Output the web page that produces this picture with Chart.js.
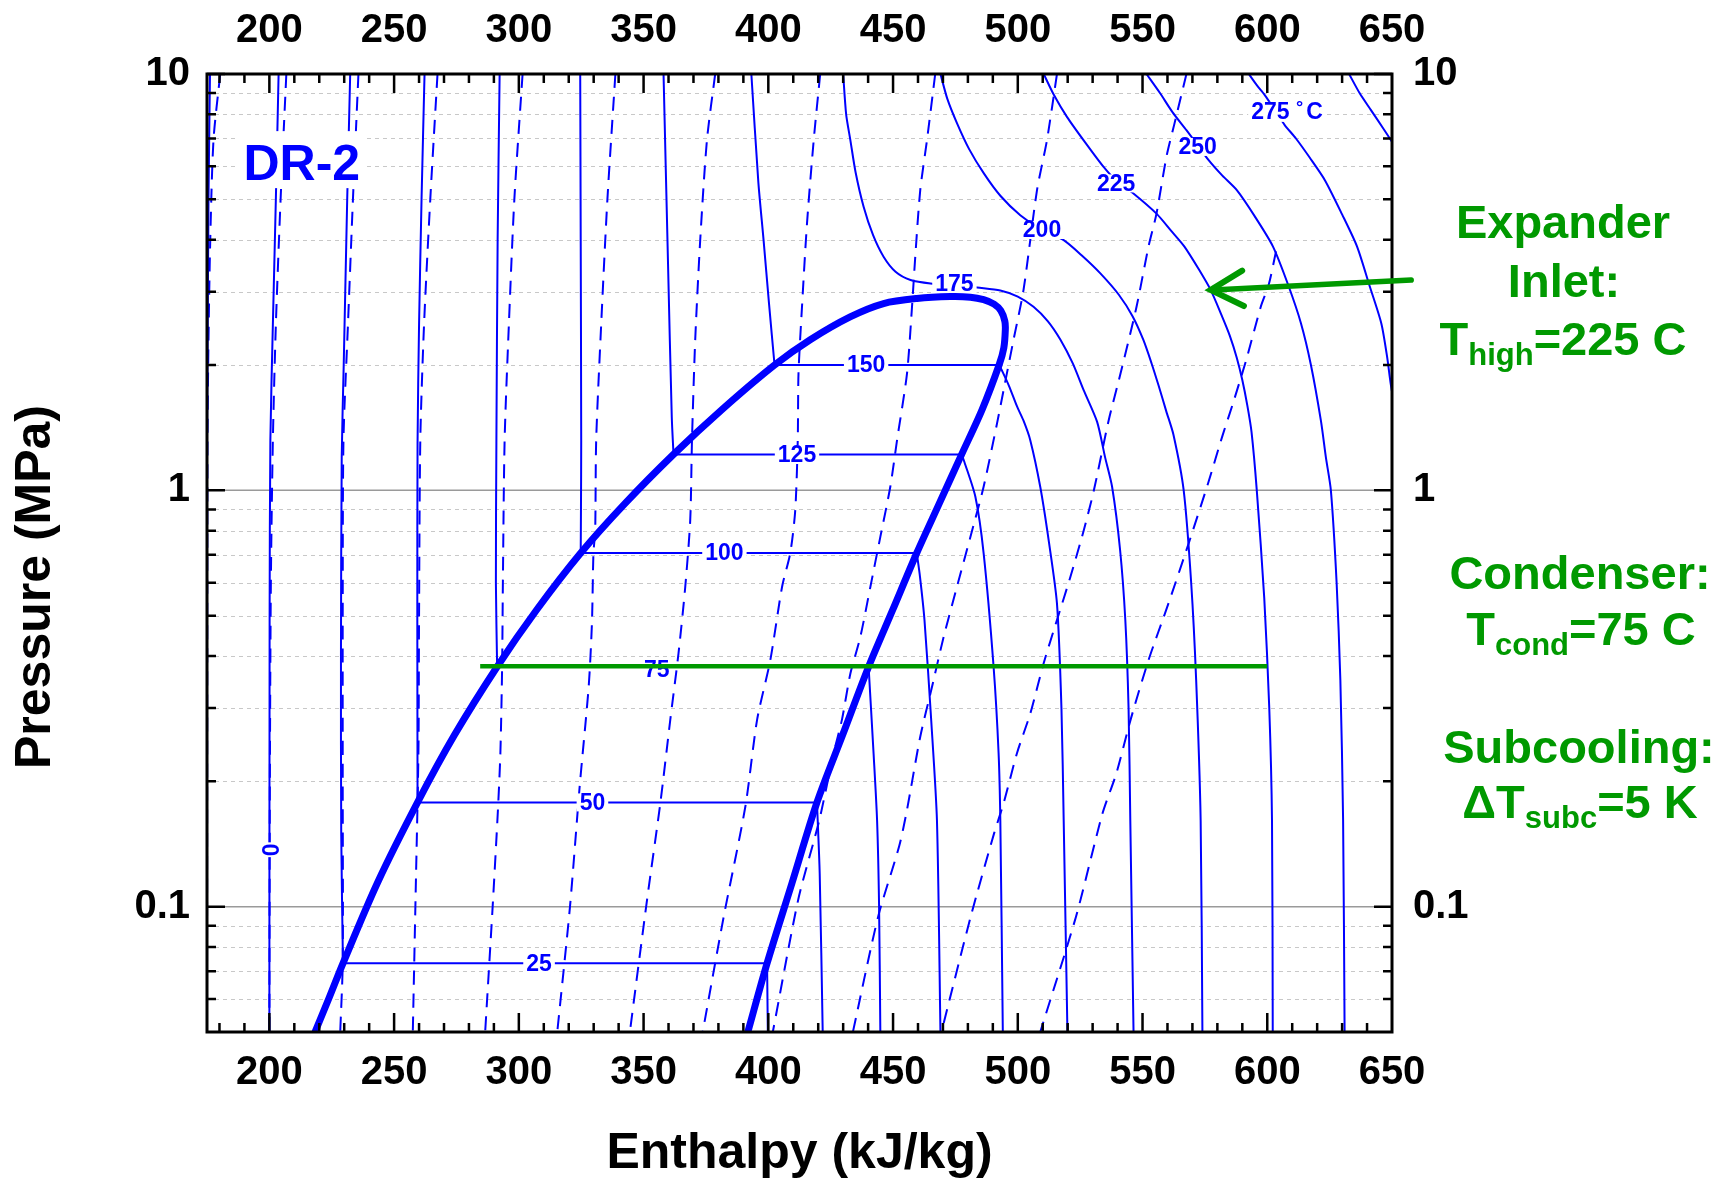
<!DOCTYPE html>
<html>
<head>
<meta charset="utf-8">
<title>DR-2 pressure-enthalpy diagram</title>
<script src="https://cdn.jsdelivr.net/npm/chart.js@4.4.1/dist/chart.umd.min.js"></script>
<style>
  html, body { margin: 0; padding: 0; background: #ffffff; }
  #chart { display: block; }
</style>
</head>
<body>
<canvas id="chart" width="1729" height="1181" style="width:1729px;height:1181px"></canvas>
<script>
// ---------------- data (enthalpy h in kJ/kg, pressure p in MPa) ----------------
const xTicks = [200, 250, 300, 350, 400, 450, 500, 550, 600, 650];
const yTicks = [0.1, 1, 10];
const yMinor = [0.06, 0.07, 0.08, 0.09, 0.2, 0.3, 0.4, 0.5, 0.6, 0.7, 0.8, 0.9, 2, 3, 4, 5, 6, 7, 8, 9];

// saturation dome: liquid line up, around the critical region, vapour line down
const dome = [[218.3,0.05],[224,0.0605],[229.5,0.0731],[243.3,0.114],[259.4,0.178],[274.3,0.259],[291.3,0.377],[307.1,0.516],[324.8,0.707],[342.5,0.929],[362,1.22],[381.4,1.563],[402.5,2.0],[416.8,2.30],[432.8,2.61],[446.2,2.81],[459.6,2.89],[473,2.92],[481,2.91],[486.3,2.87],[490.5,2.8],[493.2,2.7],[494.8,2.55],[495,2.43],[494.4,2.2],[492.5,2.0],[485.7,1.563],[477.5,1.22],[468.5,0.929],[459.5,0.707],[449.85,0.516],[440.2,0.377],[429.85,0.259],[419.5,0.178],[409.5,0.114],[399.5,0.0731],[391.8,0.05]];

// isotherms (solid)
const T_m25 = [[176.2,10],[175.6,5],[175.2,2],[175,1.3],[174.6,0.5],[174.3,0.05]];
const T0   = [[203.7,10],[202.6,5],[201.4,2.5],[200.4,1.32],[200.1,0.5],[200,0.05]];
const T25  = [[232.4,10],[231.2,5],[229.8,2],[229,1.2],[228.7,0.4],[228.8,0.15],[229.5,0.0731],[229.5,0.0731],[399.5,0.0731],[399.5,0.0731],[399.8,0.05]];
const T50  = [[262.2,10],[261,5],[260,2.5],[259.4,1.3],[259.3,0.5],[259.4,0.178],[259.4,0.178],[419.5,0.178],[419.5,0.178],[420.6,0.12],[421.8,0.05]];
const T75  = [[292.3,10],[291.5,4],[291,1.3],[290.8,0.6],[291.3,0.377],[291.3,0.377],[440.2,0.377],[440.2,0.377],[442.2,0.233],[443.6,0.161],[444.4,0.1],[444.9,0.05]];
const T100 = [[324.6,10],[324.8,4],[325,1.32],[324.9,0.9],[324.8,0.707],[324.8,0.707],[459.5,0.707],[459.5,0.707],[460.8,0.62],[462.6,0.488],[465.3,0.28],[467.6,0.161],[469,0.05]];
const T125 = [[358,10],[359.8,3.5],[361.3,1.5],[362,1.22],[362,1.22],[477.5,1.22],[477.5,1.22],[478.6,1.17],[483,0.965],[486.3,0.707],[490.3,0.377],[492.3,0.234],[493,0.161],[494,0.05]];
const T150 = [[393.2,10],[396,5.5],[398.1,3.99],[400.3,2.8],[402.5,2.0],[402.5,2.0],[492.5,2.0],[492.5,2.0],[494,1.92],[496.5,1.78],[499.7,1.59],[502.3,1.47],[505,1.32],[509,1.02],[512.5,0.75],[515.7,0.535],[517.5,0.3],[518.4,0.161],[519.9,0.05]];
const T175 = [[430,10],[431.2,8],[432.9,6.93],[435,5.8],[438.2,4.8],[442,4.1],[446.2,3.64],[451,3.35],[457,3.2],[465,3.14],[474.6,3.12],[483.7,3.07],[493,3.02],[500,2.92],[506.3,2.76],[512,2.55],[517.1,2.3],[522,2.02],[526.4,1.74],[531.8,1.46],[535,1.2],[537.8,1.02],[541,0.72],[543.1,0.488],[544.4,0.3],[545.1,0.161],[546.4,0.05]];
const T200 = [[469,10],[471.8,8.7],[475.7,7.6],[480.5,6.6],[486.4,5.77],[493,5.1],[501,4.58],[509.7,4.22],[518.4,3.99],[526,3.65],[533.1,3.32],[540.5,2.95],[546,2.62],[550.3,2.3],[553.6,2.02],[556.5,1.78],[559.5,1.55],[562.4,1.36],[566.5,1.0],[569.5,0.6],[571.5,0.35],[573.3,0.161],[574,0.05]];
const T225 = [[510.4,10],[514.5,8.9],[519.7,7.89],[527,6.85],[534.4,5.98],[539.4,5.55],[546.6,5.15],[555.6,4.62],[561.5,4.2],[566.8,3.85],[572.5,3.4],[577.3,3.03],[581.5,2.65],[585,2.35],[587.8,2.08],[590,1.84],[592,1.6],[593.7,1.38],[595.8,1.0],[598.8,0.55],[600.8,0.3],[601.9,0.161],[602.2,0.05]];
const T250 = [[551.6,10],[557,9],[562,8.1],[567.6,7.33],[572.1,6.75],[576.5,6.21],[582,5.7],[587.8,5.26],[595,4.55],[602.3,3.85],[608.5,3.1],[613.5,2.52],[617.5,2.0],[621.5,1.47],[623.5,1.2],[625.5,1.0],[627.8,0.6],[629.3,0.35],[630.4,0.161],[631,0.05]];
const T275 = [[592.6,10],[595.8,9.4],[599,8.9],[603,8.2],[607,7.54],[611.5,7.0],[617,6.3],[623.1,5.56],[630,4.6],[636,3.85],[641,3.1],[645.7,2.52],[648,2.1],[649.5,1.8],[651.3,1.55],[652.5,1.3]];
const T300 = [[632.8,10],[637,9],[641.5,8.2],[646.5,7.4],[651.3,6.68],[655,6.1]];

// isentropes (dashed)
const S1  = [[180.3,10],[177.6,6.94],[176.3,3.99],[175.6,2.3],[175.2,1.32],[175.1,0.5],[175,0.05]];
const S2  = [[206.8,10],[204.5,5],[202.6,2.5],[201.4,1.32],[200.6,0.6],[200.2,0.2],[200,0.05]];
const S3  = [[235.7,10],[233.5,5],[231.5,2.5],[229.7,1.32],[229.4,0.5],[229.4,0.2],[229.4,0.0731],[228.4,0.05]];
const S4  = [[267.4,10],[264.5,5],[262,2.5],[260.5,1.32],[260,0.5],[259.8,0.25],[259.4,0.178],[258.8,0.12],[257.5,0.05]];
const S5  = [[301.5,10],[298.2,5],[296,2.5],[294.3,1.32],[293.6,0.6],[293.3,0.378],[292.6,0.234],[291.6,0.17],[289.5,0.1],[286.5,0.05]];
const S6  = [[338.7,10],[335.5,5],[333,2.5],[331,1.32],[330.6,0.8],[329.9,0.706],[329.3,0.48],[328,0.338],[324.4,0.195],[320.5,0.1],[315.4,0.05]];
const S7  = [[378.7,10],[375.4,6.94],[372.7,3.99],[370.7,2.3],[369.4,1.32],[368.7,0.848],[366.7,0.586],[364,0.406],[360.7,0.281],[356.7,0.177],[351.4,0.104],[344.5,0.05]];
const S8  = [[420.8,10],[418.2,6.94],[415.5,4.37],[413.5,2.76],[412.1,1.91],[411.8,1.32],[410.8,0.896],[408.8,0.707],[405.5,0.586],[400.8,0.391],[395.5,0.281],[390.8,0.174],[382.1,0.0945],[373.7,0.05]];
const S9  = [[466.9,10],[463.6,6.94],[460.9,5.26],[458.9,3.64],[457.6,2.76],[455.6,1.91],[451.6,1.32],[448.9,1.02],[444.9,0.773],[440.9,0.586],[436.9,0.445],[432.9,0.363],[429.5,0.281],[426.2,0.234],[420.4,0.161],[412,0.104],[401.8,0.05]];
const S10 = [[515.7,10],[511.7,6.94],[507.7,5.26],[502.3,3.03],[498.3,2.3],[494.3,1.74],[491.7,1.45],[486.3,1.02],[481,0.773],[475.6,0.586],[470.3,0.445],[465.6,0.337],[460.9,0.256],[455.6,0.171],[452.5,0.14],[444,0.0945],[433.9,0.05]];
const S11 = [[567.6,10],[562.8,7.6],[559.6,6.33],[555.6,4.62],[552.4,3.85],[547.6,2.76],[541.2,1.91],[536.4,1.47],[530.5,1.0],[526.4,0.8],[521.1,0.62],[515.7,0.488],[510.4,0.385],[505,0.291],[499.7,0.234],[494.3,0.177],[490.5,0.15],[481.1,0.0945],[469.4,0.05]];
const S12 = [[603.5,3.75],[600.6,3.12],[597.4,2.76],[591.5,2.05],[586,1.6],[582,1.35],[576.5,1.05],[568.5,0.746],[560.4,0.535],[552.4,0.391],[545.2,0.281],[539.5,0.209],[533.9,0.167],[523.3,0.0945],[509,0.05]];

// isotherm labels (°C) and where they sit
const isoLabelText = ['25', '50', '75', '100', '125', '150', '175', '200', '225', '250', '275'];
const isoLabelH    = [308.1, 329.5, 355.3, 382.4, 411.5, 439.2, 474.6, 509.7, 539.4, 572.1, 607.9];
const isoLabelP    = [0.0731, 0.178, 0.371, 0.707, 1.22, 2.0, 3.13, 4.22, 5.46, 6.68, 8.11];
const zeroLabel    = ['0', 201, 0.137];
const fluidLabel   = ['DR-2', 213, 5.56];

// cycle annotations
const condenserLine = [[284.5, 0.378], [600, 0.378]];
const arrowTail = [657.7, 3.2];
const arrowTip  = [577.3, 3.03];
const noteLines = [
  [['Expander', 0]],
  [['Inlet:', 0]],
  [['T', 0], ['high', 1], ['=225 C', 0]],
  [['Condenser:', 0]],
  [['T', 0], ['cond', 1], ['=75 C', 0]],
  [['Subcooling:', 0]],
  [['\u0394T', 0], ['subc', 1], ['=5 K', 0]]
];

// ---------------- chart ----------------
const FONT = '"Liberation Sans", Arial, Helvetica, sans-serif';
const BLUE = '#0000ff';
const GREEN = '#009900';

const isotherms = [T_m25, T0, T25, T50, T75, T100, T125, T150, T175, T200, T225, T250, T275, T300];
const isentropes = [S1, S2, S3, S4, S5, S6, S7, S8, S9, S10, S11, S12];
const pts = a => a.map(([h, p]) => ({ x: h, y: p }));

const common = { showLine: true, pointRadius: 0, pointHoverRadius: 0, clip: 0, fill: false, borderJoinStyle: 'round' };
const datasets = [];
datasets.push(Object.assign({}, common, { label: 'Condenser', data: pts(condenserLine), borderColor: GREEN, borderWidth: 4.5, tension: 0, order: 0 }));
datasets.push(Object.assign({}, common, { label: 'Saturation', data: pts(dome), borderColor: BLUE, borderWidth: 7, tension: 0.3, order: 1, isDome: true }));
isotherms.forEach((a, i) => datasets.push(Object.assign({}, common, { label: 'T' + i, data: pts(a), borderColor: BLUE, borderWidth: 2, tension: 0.25, order: 2 })));
isentropes.forEach((a, i) => datasets.push(Object.assign({}, common, { label: 'S' + i, data: pts(a), borderColor: BLUE, borderWidth: 2, borderDash: [14, 9], tension: 0.25, order: 3 })));

const tickFont = { family: FONT, size: 40, weight: 'bold' };
function xScale(pos, height, pad, title) {
  const s = {
    type: 'linear', position: pos, min: 175, max: 650,
    afterBuildTicks: sc => { sc.ticks = xTicks.map(v => ({ value: v })); },
    afterFit: sc => { sc.height = height; },
    grid: { display: false, drawTicks: false },
    border: { display: false },
    ticks: { autoSkip: false, maxRotation: 0, minRotation: 0, padding: pad, color: '#000', font: tickFont, callback: v => String(v) }
  };
  if (title) s.title = { display: true, text: title, color: '#000', font: { family: FONT, size: 50, weight: 'bold', lineHeight: 1.0 }, padding: { top: 0, bottom: 1.4 } };
  return s;
}
function yScale(pos, width, pad) {
  return {
    type: 'logarithmic', position: pos, min: 0.05, max: 10,
    afterBuildTicks: sc => { sc.ticks = yTicks.map(v => ({ value: v })); },
    afterFit: sc => { sc.width = width; },
    grid: { display: false, drawTicks: false },
    border: { display: false },
    ticks: { autoSkip: false, padding: pad, color: '#000', font: tickFont, callback: v => String(v) }
  };
}

const gridPlugin = {
  id: 'pgrid',
  beforeDatasetsDraw(chart) {
    const { ctx, chartArea: a, scales } = chart;
    const ys = scales.y;
    ctx.save();
    ctx.lineWidth = 1; ctx.strokeStyle = '#c8c8c8'; ctx.setLineDash([4, 4]);
    yMinor.forEach(p => {
      const yy = Math.round(ys.getPixelForValue(p)) + 0.5;
      ctx.beginPath(); ctx.moveTo(a.left, yy); ctx.lineTo(a.right, yy); ctx.stroke();
    });
    ctx.setLineDash([]); ctx.strokeStyle = '#9a9a9a'; ctx.lineWidth = 1.5;
    [0.1, 1].forEach(p => {
      const yy = ys.getPixelForValue(p);
      ctx.beginPath(); ctx.moveTo(a.left, yy); ctx.lineTo(a.right, yy); ctx.stroke();
    });
    ctx.restore();
  }
};

const labelPlugin = {
  id: 'isoLabels',
  beforeDatasetDraw(chart, args) {
    const ds = chart.data.datasets[args.index];
    if (!ds || !ds.isDome) return;
    const { ctx, scales } = chart;
    const xs = scales.x, ys = scales.y;
    const f = 'bold 23px ' + FONT, fs = 'bold 18px ' + FONT;
    ctx.save();
    ctx.textBaseline = 'middle';
    for (let i = 0; i < isoLabelText.length; i++) {
      const px = xs.getPixelForValue(isoLabelH[i]);
      const py = ys.getPixelForValue(isoLabelP[i]);
      const t = isoLabelText[i];
      ctx.font = f;
      if (i === isoLabelText.length - 1) {
        const w1 = ctx.measureText(t + ' ').width;
        ctx.font = fs; const w2 = ctx.measureText('\u00B0').width;
        ctx.font = f; const w3 = ctx.measureText('C').width;
        const W = w1 + w2 + 3 + w3, x0 = px - W / 2;
        ctx.fillStyle = '#fff'; ctx.fillRect(x0 - 3, py - 10, W + 6, 20);
        ctx.fillStyle = BLUE; ctx.textAlign = 'left';
        ctx.fillText(t + ' ', x0, py + 1);
        ctx.font = fs; ctx.fillText('\u00B0', x0 + w1, py - 4);
        ctx.font = f; ctx.fillText('C', x0 + w1 + w2 + 3, py + 1);
      } else {
        const w = ctx.measureText(t).width;
        ctx.fillStyle = '#fff'; ctx.fillRect(px - w / 2 - 3, py - 9, w + 6, 18);
        ctx.fillStyle = BLUE; ctx.textAlign = 'center';
        ctx.fillText(t, px, py + 1);
      }
    }
    // rotated "0" on the 0 °C isotherm
    const zx = xs.getPixelForValue(zeroLabel[1]), zy = ys.getPixelForValue(zeroLabel[2]);
    ctx.save();
    ctx.translate(zx, zy); ctx.rotate(-Math.PI / 2);
    ctx.font = f; ctx.textAlign = 'center'; ctx.textBaseline = 'middle';
    const zw = ctx.measureText(zeroLabel[0]).width;
    ctx.fillStyle = '#fff'; ctx.fillRect(-zw / 2 - 1, -9, zw + 2, 17);
    ctx.fillStyle = BLUE; ctx.fillText(zeroLabel[0], 0, 1);
    ctx.restore();
    // fluid name
    ctx.font = 'bold 50px ' + FONT; ctx.textAlign = 'center'; ctx.textBaseline = 'alphabetic';
    const dx = xs.getPixelForValue(fluidLabel[1]), dy = ys.getPixelForValue(fluidLabel[2]);
    const dw = ctx.measureText(fluidLabel[0]).width;
    ctx.fillStyle = '#fff'; ctx.fillRect(dx - dw / 2 - 6, dy - 49, dw + 12, 57);
    ctx.fillStyle = BLUE; ctx.fillText(fluidLabel[0], dx, dy);
    ctx.restore();
  }
};

function drawRich(ctx, parts, cx, baseY) {
  const big = 'bold 47px ' + FONT, small = 'bold 31px ' + FONT;
  let total = 0;
  parts.forEach(([t, sub]) => { ctx.font = sub ? small : big; total += ctx.measureText(t).width; });
  let x = cx - total / 2;
  ctx.textAlign = 'left'; ctx.textBaseline = 'alphabetic';
  parts.forEach(([t, sub]) => {
    ctx.font = sub ? small : big;
    ctx.fillText(t, x, sub ? baseY + 10 : baseY);
    x += ctx.measureText(t).width;
  });
}

const framePlugin = {
  id: 'frame',
  afterDraw(chart) {
    const { ctx, chartArea: a, scales } = chart;
    const xs = scales.x, ys = scales.y;
    ctx.save();
    // inward tick marks on all four sides
    ctx.strokeStyle = '#000'; ctx.lineWidth = 2.5; ctx.lineCap = 'butt';
    ctx.beginPath();
    for (let v = 180; v < 650; v += 10) {
      const len = v % 50 === 0 ? 19 : 9;
      const px = xs.getPixelForValue(v);
      ctx.moveTo(px, a.bottom); ctx.lineTo(px, a.bottom - len);
      ctx.moveTo(px, a.top); ctx.lineTo(px, a.top + len);
    }
    yMinor.concat(yTicks).forEach(p => {
      const len = yTicks.includes(p) ? 18 : 9;
      const py = ys.getPixelForValue(p);
      ctx.moveTo(a.left, py); ctx.lineTo(a.left + len, py);
      ctx.moveTo(a.right, py); ctx.lineTo(a.right - len, py);
    });
    ctx.stroke();
    ctx.lineWidth = 3;
    ctx.strokeRect(a.left, a.top, a.right - a.left, a.bottom - a.top);

    // y-axis title
    ctx.save();
    ctx.translate(36.5, 587); ctx.rotate(-Math.PI / 2);
    ctx.font = 'bold 50px ' + FONT; ctx.fillStyle = '#000';
    ctx.textAlign = 'center'; ctx.textBaseline = 'middle';
    ctx.fillText('Pressure (MPa)', 0, 0);
    ctx.restore();

    // arrow to expander inlet
    const tx = xs.getPixelForValue(arrowTip[0]), ty = ys.getPixelForValue(arrowTip[1]);
    const sx = xs.getPixelForValue(arrowTail[0]), sy = ys.getPixelForValue(arrowTail[1]);
    ctx.strokeStyle = GREEN; ctx.lineWidth = 5.5; ctx.lineCap = 'round';
    ctx.beginPath(); ctx.moveTo(sx, sy); ctx.lineTo(tx + 2, ty); ctx.stroke();
    const ang = Math.atan2(sy - ty, sx - tx), L = 37, spread = 0.5;
    ctx.lineWidth = 6;
    ctx.beginPath();
    ctx.moveTo(tx + L * Math.cos(ang - spread), ty + L * Math.sin(ang - spread));
    ctx.lineTo(tx, ty);
    ctx.lineTo(tx + L * Math.cos(ang + spread), ty + L * Math.sin(ang + spread));
    ctx.lineJoin = 'miter';
    ctx.stroke();

    // green notes
    ctx.fillStyle = GREEN;
    const notePos = [[1563, 238], [1564, 297], [1563, 355], [1580, 589], [1581, 645], [1579, 763], [1580, 818]];
    noteLines.forEach((parts, i) => drawRich(ctx, parts, notePos[i][0], notePos[i][1]));
    ctx.restore();
  }
};

new Chart(document.getElementById('chart'), {
  type: 'scatter',
  data: { datasets },
  options: {
    responsive: false,
    animation: false,
    devicePixelRatio: 1,
    events: [],
    layout: { padding: 0 },
    elements: { line: { capBezierPoints: false } },
    plugins: { legend: { display: false }, tooltip: { enabled: false }, title: { display: false } },
    scales: {
      x: xScale('bottom', 149, 17, 'Enthalpy (kJ/kg)'),
      x2: xScale('top', 74, 19, null),
      y: yScale('left', 207, 17),
      y2: yScale('right', 337, 21)
    }
  },
  plugins: [gridPlugin, labelPlugin, framePlugin]
});
</script>
</body>
</html>
